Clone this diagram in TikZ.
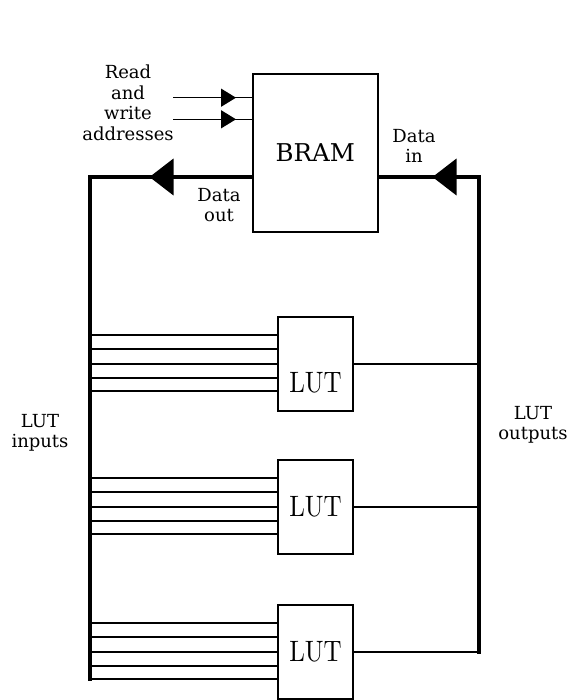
\documentclass[tikz,border=0pt]{standalone}
\usepackage{fontspec}
\newfontfamily\labelfont{DejaVu Serif}
\usetikzlibrary{arrows.meta,decorations.markings,calc}

\newcommand{\lutname}{\scalebox{2.5}[2.95]{\fontsize{10}{12}\selectfont LUT}}

\begin{document}
\begin{tikzpicture}[x=1pt,y=-1pt,
  lbl/.style={font=\labelfont\fontsize{18}{20.5}\selectfont, align=center, inner sep=0pt},
  bramblk/.style={draw, line width=2pt, minimum width=125.5pt, minimum height=158pt, inner sep=0pt,
    font=\labelfont\fontsize{24.5}{26}\selectfont},
  lutblk/.style={draw, line width=2pt, minimum width=75pt, minimum height=94pt, inner sep=0pt},
  luttext/.style={inner sep=0pt},
  wire/.style={line width=1.5pt},
  bus/.style={line width=4pt, line join=miter, line cap=rect},
  smallhead/.style={postaction={decorate}, decoration={markings,
    mark=at position #1 with {\arrow{Triangle[length=15pt,width=18pt]}}}},
  bighead/.style={postaction={decorate}, decoration={markings,
    mark=at position #1 with {\arrow{Triangle[length=24pt,width=36pt]}}}},
]
\useasboundingbox (0,0) rectangle (571,700);

% block RAM
\node[bramblk] (bram) at (315.25,153) {BRAM};

% LUTs
\node[lutblk] (lut1) at (315.5,364) {};
\node[lutblk] (lut2) at (315.5,507) {};
\node[lutblk] (lut3) at (315.5,652) {};
\node[luttext] (t1) at ($(lut1.center)+(0,19)$) {\lutname};
\node[luttext] (t2) at (lut2.center) {\lutname};
\node[luttext] (t3) at (lut3.center) {\lutname};

% bus corners and ends
\coordinate (busL) at (89.5,177);
\coordinate (busLend) at (89.5,679);
\coordinate (busR) at (478.5,177);
\coordinate (busRend) at (478.5,652);
\coordinate (dout) at ($(bram.west)+(0,24)$);
\coordinate (din) at ($(bram.east)+(0,24)$);

% address inputs
\coordinate (a1) at (173,97.7);
\coordinate (a2) at (173,119.3);
\draw[wire, smallhead=63pt] (a1) -- (bram.west |- a1);
\draw[wire, smallhead=63pt] (a2) -- (bram.west |- a2);

% data out: BRAM to LUT inputs
\draw[bus, bighead=102pt] (dout) -- (busL) -- (busLend);
% data in: LUT outputs to BRAM
\draw[bus, bighead=521pt] (busRend) -- (busR) -- (din);

% LUT input and output wires
\foreach \l in {lut1,lut2,lut3}{
  \foreach \d in {-29,-15,0,14,27}{
    \coordinate (p) at ($(\l.west)+(0,\d)$);
    \draw[wire] (p) -- (busL |- p);
  }
  \draw[wire] (\l.east) -- (busR |- \l.east);
}

% labels
\node[lbl] (addr) at (128,103) {Read\\and\\write\\addresses};
\node[lbl] (doutl) at (219,205) {Data\\out};
\node[lbl] (dinl) at (414,146) {Data\\in};
\node[lbl] (inl) at (40,433) {LUT\\inputs};
\node[lbl] (outl) at (533,425) {LUT\\outputs};
\end{tikzpicture}
\end{document}
